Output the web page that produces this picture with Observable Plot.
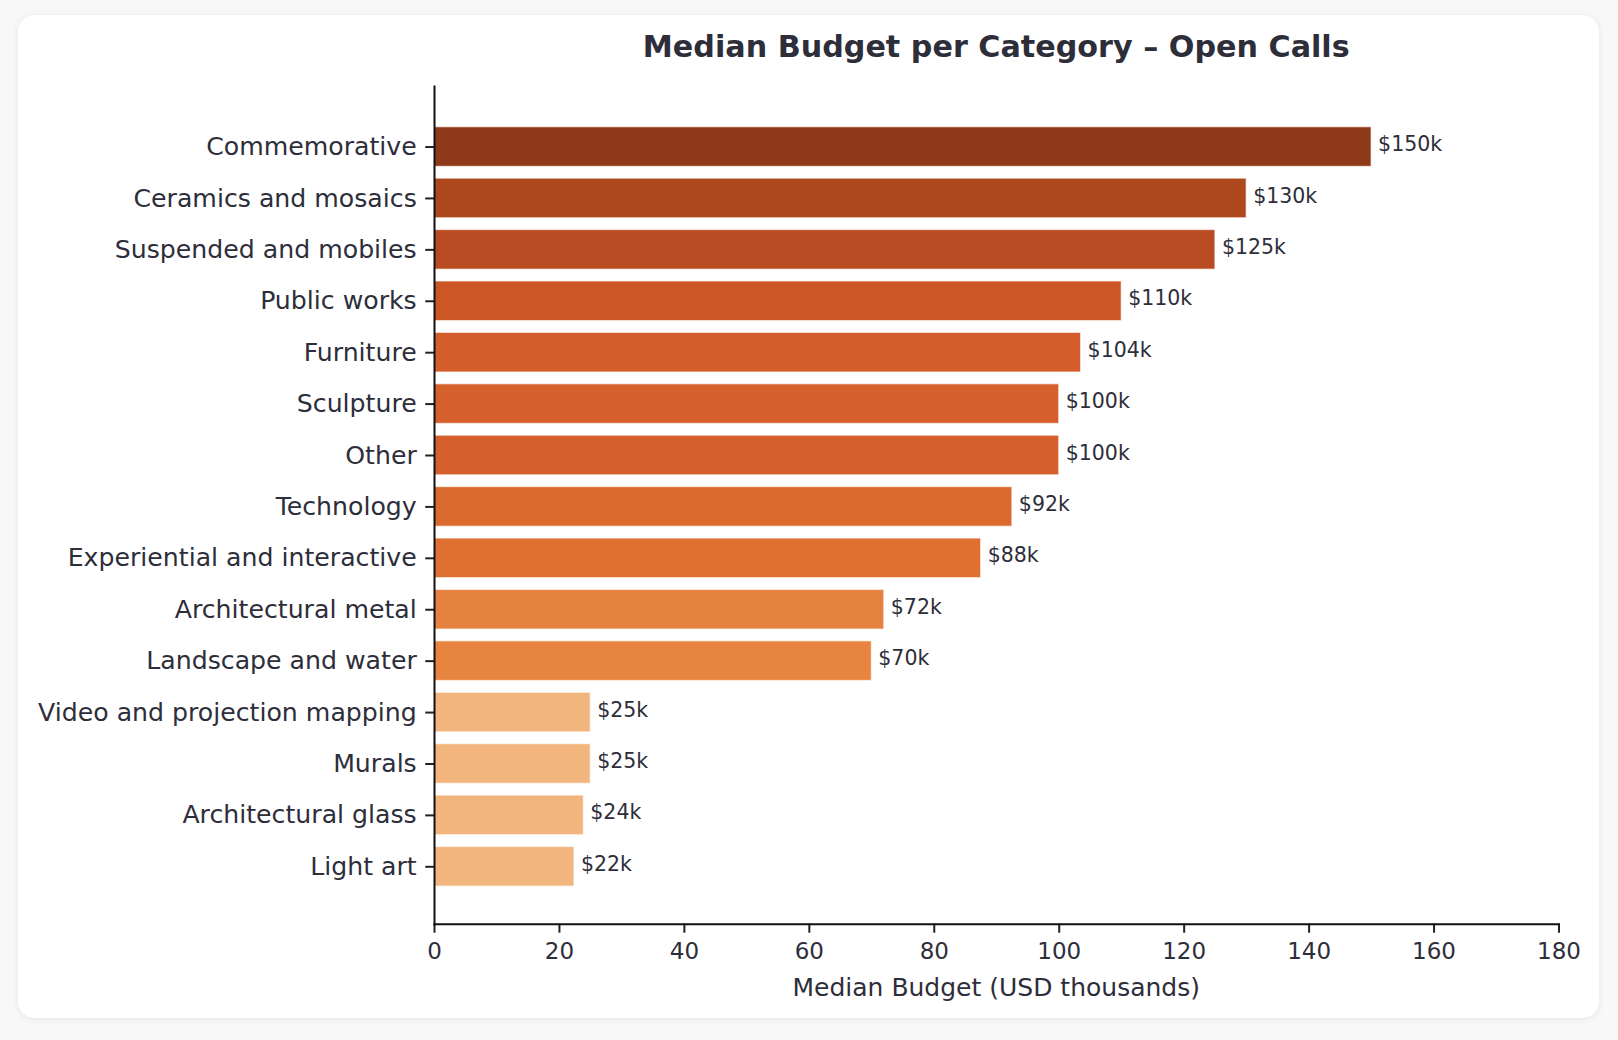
<!DOCTYPE html>
<html>
<head>
<meta charset="utf-8">
<script src="https://cdn.jsdelivr.net/npm/d3@7"></script>
<script src="https://cdn.jsdelivr.net/npm/@observablehq/plot@0.6"></script>
<style>
  html, body { margin: 0; padding: 0; width: 1618px; height: 1040px; overflow: hidden; background: #f8f8f9; font-family: "DejaVu Sans", sans-serif; }
  #card { position: absolute; left: 18px; top: 15px; width: 1581px; height: 1003px; background: #fff; border-radius: 16px; box-shadow: 0 1px 7px rgba(0,0,0,0.08), 0 0 1px rgba(0,0,0,0.06); }
  #chart { position: absolute; left: 0; top: 0; }
  #title { position: absolute; left: 434px; width: 1124.5px; top: 31.5px; text-align: center; font-size: 30.2px; line-height: 30.5px; font-weight: bold; color: #2d2e3a; white-space: nowrap; }
  #xlabel { position: absolute; left: 434px; width: 1124.5px; top: 975px; text-align: center; font-size: 25px; line-height: 25px; color: #2d2e3a; white-space: nowrap; }
</style>
</head>
<body>
<div id="card"></div>
<div id="chart"></div>
<div id="title">Median Budget per Category – Open Calls</div>
<div id="xlabel">Median Budget (USD thousands)</div>
<script>
const categories = [
  "Commemorative", "Ceramics and mosaics", "Suspended and mobiles", "Public works",
  "Furniture", "Sculpture", "Other", "Technology", "Experiential and interactive",
  "Architectural metal", "Landscape and water", "Video and projection mapping",
  "Murals", "Architectural glass", "Light art"
];
const medianBudget = [150, 130, 125, 110, 103.5, 100, 100, 92.5, 87.5, 72, 70, 25, 25, 23.9, 22.4];
const valueLabels = ["$150k", "$130k", "$125k", "$110k", "$104k", "$100k", "$100k", "$92k", "$88k", "$72k", "$70k", "$25k", "$25k", "$24k", "$22k"];
const xTicks = [0, 20, 40, 60, 80, 100, 120, 140, 160, 180];
const palette = ["#8e3a1a", "#ad471e", "#b84b21", "#cc5626", "#d35e2b", "#d5602d", "#d5602d", "#db6a2f", "#df7032", "#e68240", "#e68440", "#f2b57d", "#f2b57d", "#f2b57d", "#f2b57d"];

const data = categories.map((c, i) => ({category: c, value: medianBudget[i], label: valueLabels[i]}));
const textColor = "#2d2e3a";

const chart = Plot.plot({
  width: 1618,
  height: 1040,
  marginLeft: 434,
  marginRight: 59.5,
  marginTop: 86,
  marginBottom: 116.3,
  style: {background: "transparent", fontFamily: "DejaVu Sans", color: textColor, overflow: "visible"},
  x: {domain: [0, 180], ticks: xTicks},
  y: {domain: categories, paddingInner: 0.23, paddingOuter: 0.762, align: 0.52, round: false},
  color: {type: "ordinal", domain: categories, range: palette},
  marks: [
    Plot.barX(data, {y: "category", x: "value", fill: "category", stroke: "white", strokeWidth: 1.2, strokeOpacity: 0.6}),
    Plot.text(data, {y: "category", x: "value", text: "label", textAnchor: "start", dx: 6.5, dy: -2.5, fontSize: 20.5, fill: textColor}),
    Plot.axisX({ticks: xTicks, tickSize: 9, tickPadding: 9.5, fontSize: 23, strokeWidth: 2, stroke: "#222", color: textColor, label: null}),
    Plot.axisY({tickSize: 8.75, tickPadding: 9, fontSize: 25.2, strokeWidth: 2, stroke: "#222", color: textColor, label: null}),
    Plot.frame({anchor: "left", stroke: "#111", strokeWidth: 2}),
    Plot.frame({anchor: "bottom", stroke: "#111", strokeWidth: 2})
  ]
});
document.getElementById("chart").appendChild(chart);
</script>
</body>
</html>
